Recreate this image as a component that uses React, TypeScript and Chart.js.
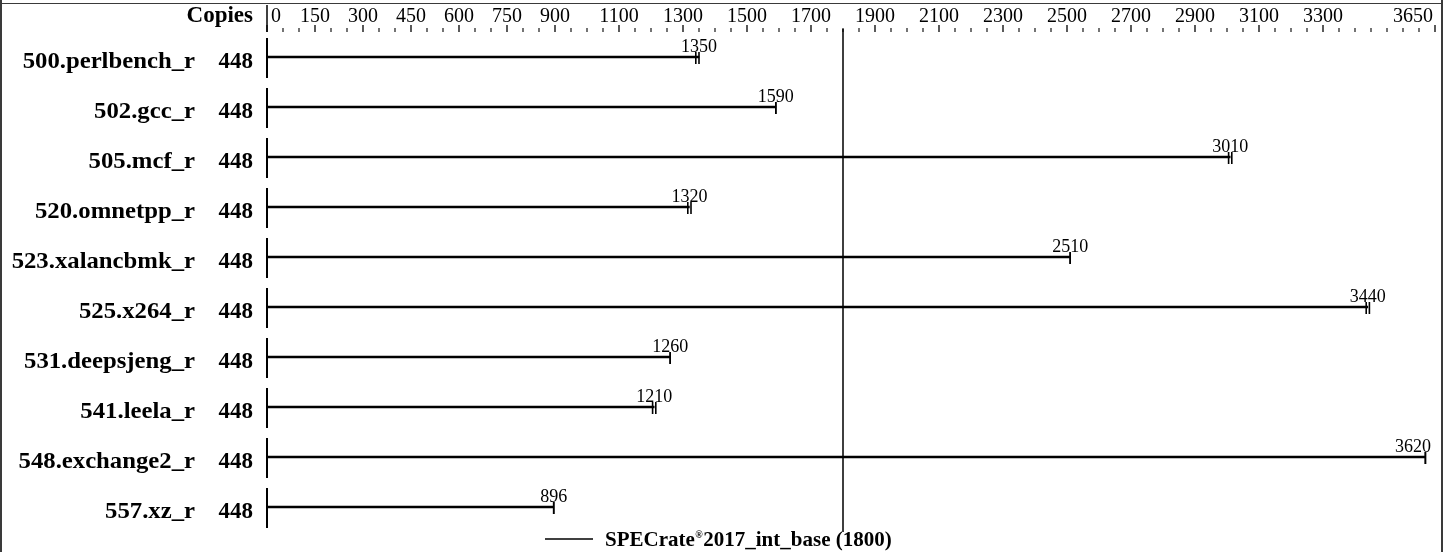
import React, { useEffect, useRef } from 'react';
import { Chart, registerables } from 'chart.js';

Chart.register(...registerables);

const benchmarks = [
  '500.perlbench_r',
  '502.gcc_r',
  '505.mcf_r',
  '520.omnetpp_r',
  '523.xalancbmk_r',
  '525.x264_r',
  '531.deepsjeng_r',
  '541.leela_r',
  '548.exchange2_r',
  '557.xz_r',
];
const copies = [448, 448, 448, 448, 448, 448, 448, 448, 448, 448];
const ratios = [1350, 1590, 3010, 1320, 2510, 3440, 1260, 1210, 3620, 896];
const runLow = [1340, 1590, 3005, 1315, 2510, 3435, 1260, 1205, 3620, 896];
const runHigh = [1350, 1590, 3015, 1325, 2510, 3445, 1260, 1215, 3620, 896];
const axisLabels = [0, 150, 300, 450, 600, 750, 900, 1100, 1300, 1500, 1700, 1900, 2100, 2300, 2500, 2700, 2900, 3100, 3300, 3650];
const axisMin = 0;
const axisMax = 3650;
const minorStep = 50;
const baselineValue = 1800;
const baselineName = ['SPECrate', '®', '2017_int_base (1800)'];

const SERIF = '"Liberation Serif", "DejaVu Serif", serif';

const decoPlugin = {
  id: 'deco',
  afterDatasetsDraw(chart: any) {
    const { ctx, scales } = chart;
    const xs = scales.x;
    const ys = scales.y;
    const H = chart.height;
    ctx.save();

    // frame
    ctx.fillStyle = '#3a3a3a';
    ctx.fillRect(0, 0, 2, H);
    ctx.fillRect(0, 3, 1443, 1);
    ctx.fillRect(1441, 0, 2, H);

    // axis ticks
    ctx.strokeStyle = '#000';
    const axisY = 32;
    for (let v = axisMin; v <= axisMax; v += minorStep) {
      const px = xs.getPixelForValue(v);
      const major = axisLabels.includes(v);
      ctx.lineWidth = major ? 1.3 : 1.1;
      ctx.beginPath();
      ctx.moveTo(px, axisY);
      ctx.lineTo(px, axisY - (major ? 7 : 4));
      ctx.stroke();
    }
    ctx.fillStyle = '#000';
    ctx.font = '20px ' + SERIF;
    ctx.textBaseline = 'alphabetic';
    axisLabels.forEach((v, i) => {
      const px = xs.getPixelForValue(v);
      if (i === 0) {
        ctx.textAlign = 'left';
        ctx.fillText(String(v), px + 4, 21.5);
      } else if (i === axisLabels.length - 1) {
        ctx.textAlign = 'right';
        ctx.fillText(String(v), px - 2, 21.5);
      } else {
        ctx.textAlign = 'center';
        ctx.fillText(String(v), px, 21.5);
      }
    });

    const x0 = xs.getPixelForValue(0);
    // header vertical segment
    ctx.lineWidth = 1.5;
    ctx.beginPath();
    ctx.moveTo(x0, 5);
    ctx.lineTo(x0, 32);
    ctx.stroke();

    ctx.font = 'bold 23px ' + SERIF;
    ctx.textAlign = 'right';
    ctx.fillText('Copies', 253, 21.5);

    // rows
    benchmarks.forEach((name, i) => {
      const y = ys.getPixelForValue(i);
      ctx.lineWidth = 2;
      ctx.beginPath();
      ctx.moveTo(x0, y - 20);
      ctx.lineTo(x0, y + 20);
      ctx.stroke();

      ctx.textAlign = 'right';
      ctx.save();
      ctx.translate(195, y + 10);
      ctx.scale(1.03, 1);
      ctx.font = 'bold 24px ' + SERIF;
      ctx.fillText(name, 0, 0);
      ctx.restore();
      ctx.font = 'bold 23px ' + SERIF;
      ctx.fillText(String(copies[i]), 253, y + 10);

      ctx.font = '18px ' + SERIF;
      ctx.textAlign = 'center';
      const label = String(ratios[i]);
      const w = ctx.measureText(label).width;
      let cx = xs.getPixelForValue(ratios[i]);
      const maxRight = chart.chartArea.right - 4;
      if (cx + w / 2 > maxRight) cx = maxRight - w / 2;
      ctx.fillText(label, cx, y - 6.5);
    });

    // legend
    const ly = 539;
    ctx.lineWidth = 1.5;
    ctx.beginPath();
    ctx.moveTo(545, ly);
    ctx.lineTo(593, ly);
    ctx.stroke();
    ctx.textAlign = 'left';
    let lx = 605;
    ctx.font = 'bold 21px ' + SERIF;
    ctx.fillText(baselineName[0], lx, 546);
    lx += ctx.measureText(baselineName[0]).width;
    ctx.font = 'bold 10px ' + SERIF;
    ctx.fillText(baselineName[1], lx + 0.5, 538);
    lx += ctx.measureText(baselineName[1]).width + 1;
    ctx.font = 'bold 21px ' + SERIF;
    ctx.fillText(baselineName[2], lx, 546);

    ctx.restore();
  },
};

export default function App() {
  const ref = useRef<HTMLCanvasElement | null>(null);
  useEffect(() => {
    if (!ref.current) return;
    Chart.defaults.font.family = SERIF;
    const chart = new Chart(ref.current, {
      type: 'bar',
      data: {
        labels: benchmarks,
        datasets: [
          {
            type: 'bar',
            data: ratios,
            backgroundColor: '#000',
            borderWidth: 0,
            barThickness: 2,
            xAxisID: 'x',
            yAxisID: 'y',
          } as any,
          {
            type: 'scatter',
            data: benchmarks.map((b, i) => ({ x: runLow[i], y: b })),
            pointStyle: 'line',
            rotation: 90,
            radius: 6,
            borderWidth: 1.6,
            borderColor: '#000',
            xAxisID: 'x',
            yAxisID: 'y',
          } as any,
          {
            type: 'scatter',
            data: benchmarks.map((b, i) => ({ x: runHigh[i], y: b })),
            pointStyle: 'line',
            rotation: 90,
            radius: 6,
            borderWidth: 1.6,
            borderColor: '#000',
            xAxisID: 'x',
            yAxisID: 'y',
          } as any,
          {
            type: 'line',
            data: [
              { x: baselineValue, y: 0 },
              { x: baselineValue, y: 1 },
            ],
            borderColor: '#000',
            borderWidth: 1.5,
            pointRadius: 0,
            clip: false,
            xAxisID: 'x',
            yAxisID: 'yRef',
          } as any,
        ],
      },
      options: {
        indexAxis: 'y',
        animation: false,
        responsive: true,
        maintainAspectRatio: false,
        events: [],
        layout: { padding: { left: 267, right: 16, top: 33, bottom: 19 } },
        scales: {
          x: { type: 'linear', min: axisMin, max: axisMax, display: false, offset: false },
          y: { type: 'category', labels: benchmarks, offset: true, display: false, grid: { offset: true } },
          yRef: { type: 'linear', min: 0.008, max: 1.002, reverse: true, display: false, offset: false, grid: { offset: false } },
        },
        plugins: {
          legend: { display: false },
          tooltip: { enabled: false },
        },
      } as any,
      plugins: [decoPlugin],
    });
    return () => chart.destroy();
  }, []);
  return (
    <div style={{ position: 'fixed', left: 0, top: 0, width: 1451, height: 552, background: '#fff' }}>
      <canvas ref={ref} />
    </div>
  );
}
